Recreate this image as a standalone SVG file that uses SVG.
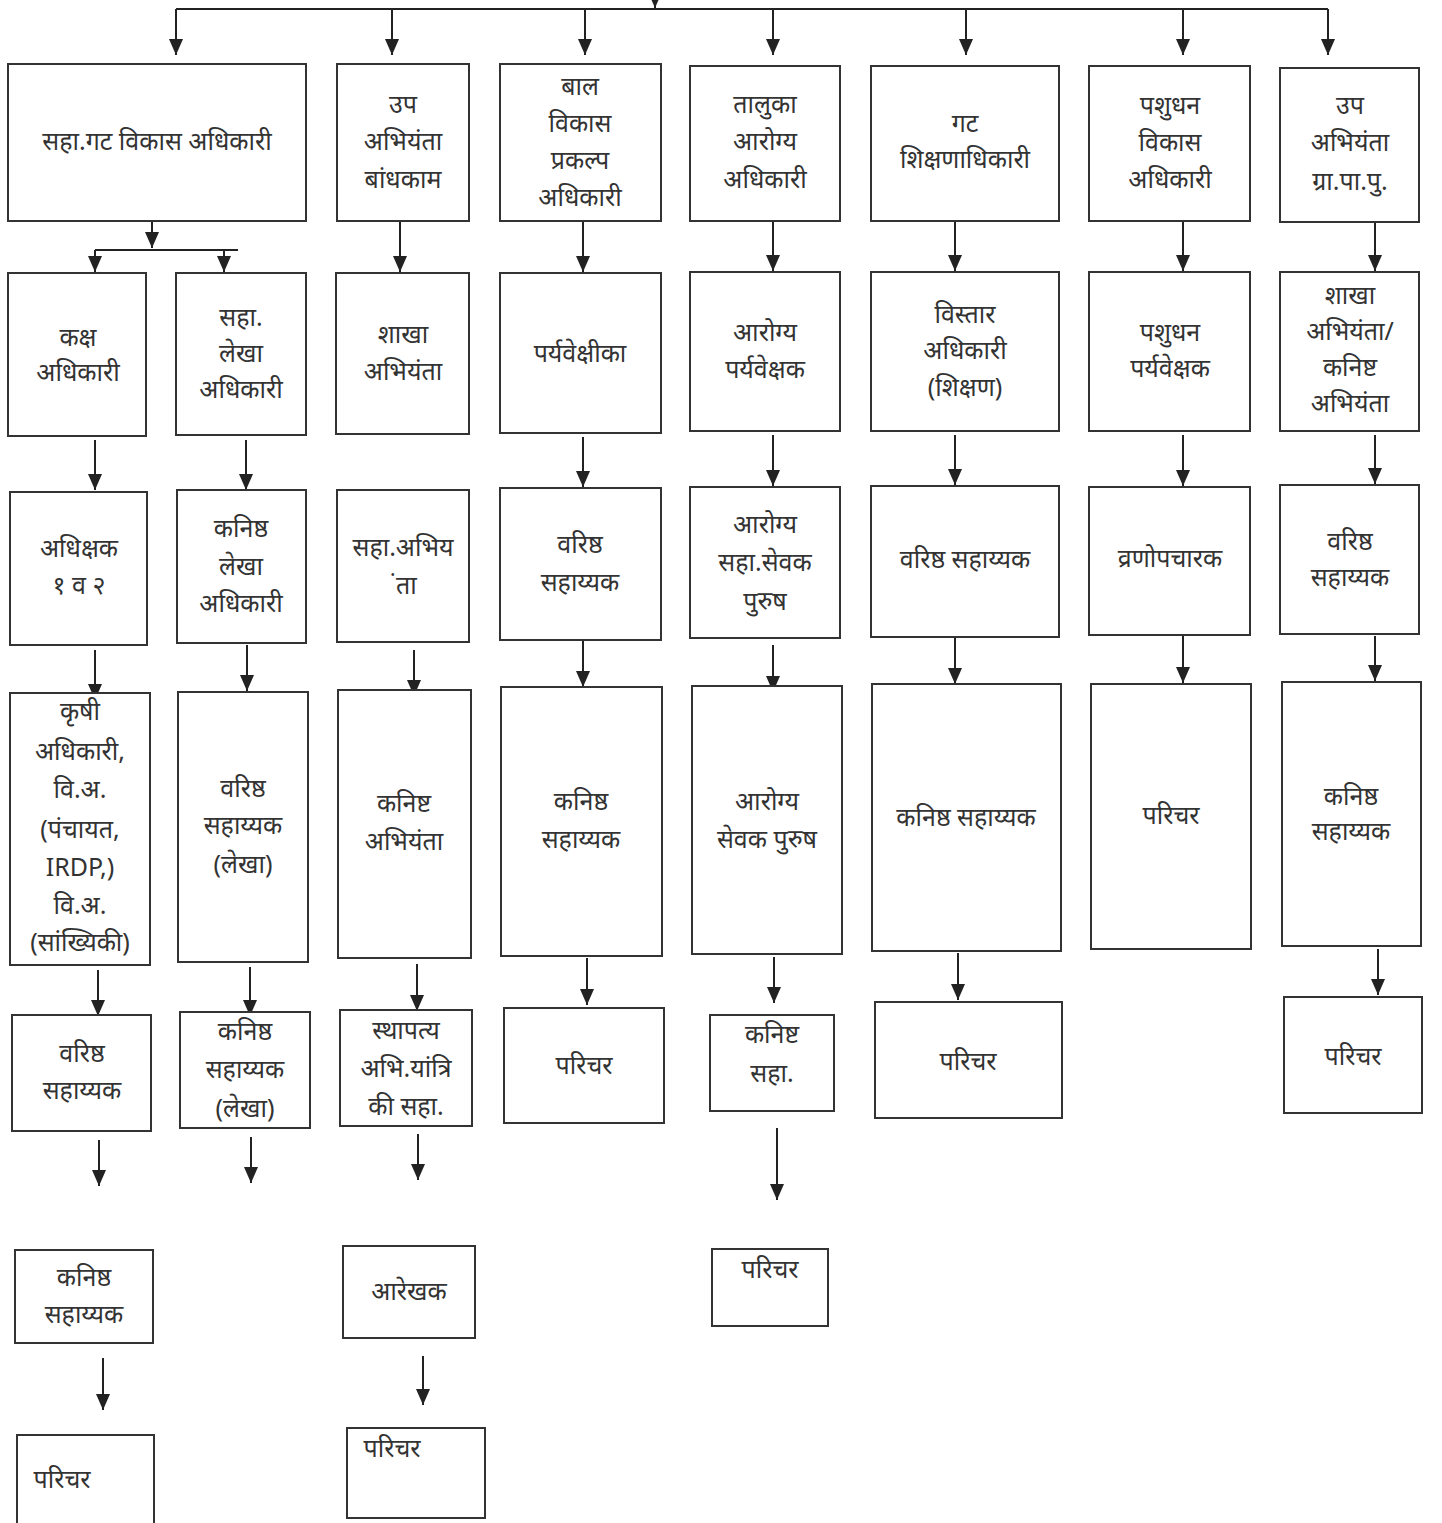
<svg xmlns="http://www.w3.org/2000/svg" width="1442" height="1523" viewBox="0 0 1442 1523">
<defs>
<marker id="ah" viewBox="0 0 16 14" refX="16" refY="7" markerWidth="16" markerHeight="14" markerUnits="userSpaceOnUse" orient="auto">
<path d="M0,0 L16,7 L0,14 Z" fill="#222"/>
</marker>
<style>
.b{fill:#fff;stroke:#333;stroke-width:2}
.t{font-family:"Noto Sans","Liberation Serif",sans-serif;font-size:25px;fill:#333;text-anchor:middle}
.c{fill:none;stroke:#222;stroke-width:2}
.a{fill:none;stroke:#222;stroke-width:2;marker-end:url(#ah)}
</style>
</defs>
<rect width="1442" height="1523" fill="#fff"/>
<g id="connectors">
<path class="a" d="M655,-20 V8"/>
<path class="c" d="M176,9 H1328"/>
<path class="a" d="M176,9 V55"/>
<path class="a" d="M392,9 V55"/>
<path class="a" d="M585,9 V55"/>
<path class="a" d="M773,9 V55"/>
<path class="a" d="M966,9 V55"/>
<path class="a" d="M1183,9 V55"/>
<path class="a" d="M1328,9 V55"/>
<path class="a" d="M152,222 V248"/>
<path class="c" d="M95,250 H238"/>
<path class="a" d="M95,250 V272"/>
<path class="a" d="M224,250 V272"/>
<path class="a" d="M400,222 V272"/>
<path class="a" d="M583,222 V272"/>
<path class="a" d="M773,222 V271"/>
<path class="a" d="M955,222 V271"/>
<path class="a" d="M1183,222 V271"/>
<path class="a" d="M1375,222 V271"/>
<path class="a" d="M95,440 V490"/>
<path class="a" d="M246,440 V490"/>
<path class="a" d="M583,437 V487"/>
<path class="a" d="M773,435 V486"/>
<path class="a" d="M955,435 V485"/>
<path class="a" d="M1183,435 V486"/>
<path class="a" d="M1375,435 V484"/>
<path class="a" d="M95,650 V700"/>
<path class="a" d="M247,645 V691"/>
<path class="a" d="M414,650 V696"/>
<path class="a" d="M583,641 V687"/>
<path class="a" d="M773,645 V692"/>
<path class="a" d="M955,638 V684"/>
<path class="a" d="M1183,636 V683"/>
<path class="a" d="M1375,636 V681"/>
<path class="a" d="M98,970 V1016"/>
<path class="a" d="M250,967 V1016"/>
<path class="a" d="M417,964 V1011"/>
<path class="a" d="M587,958 V1005"/>
<path class="a" d="M774,957 V1003"/>
<path class="a" d="M958,953 V1000"/>
<path class="a" d="M1378,949 V995"/>
<path class="a" d="M99,1140 V1186"/>
<path class="a" d="M251,1137 V1183"/>
<path class="a" d="M418,1134 V1180"/>
<path class="a" d="M777,1128 V1200"/>
<path class="a" d="M103,1358 V1410"/>
<path class="a" d="M423,1356 V1405"/>
</g>
<g id="n1"><rect class="b" x="8" y="64" width="298" height="157"/><text class="t" x="157" y="150">सहा.गट विकास अधिकारी</text></g>
<g id="n2"><rect class="b" x="337" y="64" width="132" height="157"/><text class="t" x="403" y="113">उप</text><text class="t" x="403" y="150">अभियंता</text><text class="t" x="403" y="188">बांधकाम</text></g>
<g id="n3"><rect class="b" x="500" y="64" width="161" height="157"/><text class="t" x="580" y="95">बाल</text><text class="t" x="580" y="132">विकास</text><text class="t" x="580" y="169">प्रकल्प</text><text class="t" x="580" y="206">अधिकारी</text></g>
<g id="n4"><rect class="b" x="690" y="66" width="150" height="155"/><text class="t" x="765" y="113">तालुका</text><text class="t" x="765" y="150">आरोग्य</text><text class="t" x="765" y="188">अधिकारी</text></g>
<g id="n5"><rect class="b" x="871" y="66" width="188" height="155"/><text class="t" x="965" y="132">गट</text><text class="t" x="965" y="168">शिक्षणाधिकारी</text></g>
<g id="n6"><rect class="b" x="1089" y="66" width="161" height="155"/><text class="t" x="1170" y="114">पशुधन</text><text class="t" x="1170" y="151">विकास</text><text class="t" x="1170" y="188">अधिकारी</text></g>
<g id="n7"><rect class="b" x="1280" y="68" width="139" height="154"/><text class="t" x="1350" y="114">उप</text><text class="t" x="1350" y="151">अभियंता</text><text class="t" x="1350" y="190">ग्रा.पा.पु.</text></g>

<g id="n8"><rect class="b" x="8" y="273" width="138" height="163"/><text class="t" x="78" y="346">कक्ष</text><text class="t" x="78" y="381">अधिकारी</text></g>
<g id="n9"><rect class="b" x="176" y="273" width="130" height="162"/><text class="t" x="241" y="326">सहा.</text><text class="t" x="241" y="362">लेखा</text><text class="t" x="241" y="398">अधिकारी</text></g>
<g id="n10"><rect class="b" x="336" y="273" width="133" height="161"/><text class="t" x="403" y="343">शाखा</text><text class="t" x="403" y="380">अभियंता</text></g>
<g id="n11"><rect class="b" x="500" y="273" width="161" height="160"/><text class="t" x="580" y="362">पर्यवेक्षीका</text></g>
<g id="n12"><rect class="b" x="690" y="272" width="150" height="159"/><text class="t" x="765" y="341">आरोग्य</text><text class="t" x="765" y="378">पर्यवेक्षक</text></g>
<g id="n13"><rect class="b" x="871" y="272" width="188" height="159"/><text class="t" x="965" y="323">विस्तार</text><text class="t" x="965" y="359">अधिकारी</text><text class="t" x="965" y="396">(शिक्षण)</text></g>
<g id="n14"><rect class="b" x="1089" y="272" width="161" height="159"/><text class="t" x="1170" y="341">पशुधन</text><text class="t" x="1170" y="377">पर्यवेक्षक</text></g>
<g id="n15"><rect class="b" x="1280" y="272" width="139" height="159"/><text class="t" x="1350" y="304">शाखा</text><text class="t" x="1350" y="340">अभियंता/</text><text class="t" x="1350" y="376">कनिष्ट</text><text class="t" x="1350" y="412">अभियंता</text></g>

<g id="n16"><rect class="b" x="10" y="492" width="137" height="153"/><text class="t" x="79" y="557">अधिक्षक</text><text class="t" x="79" y="594">१ व २</text></g>
<g id="n17"><rect class="b" x="177" y="490" width="129" height="153"/><text class="t" x="241" y="537">कनिष्ठ</text><text class="t" x="241" y="575">लेखा</text><text class="t" x="241" y="612">अधिकारी</text></g>
<g id="n18"><rect class="b" x="337" y="490" width="132" height="152"/><text class="t" x="403" y="556">सहा.अभिय</text><text class="t" x="403" y="594">&#xA0;ंता</text></g>
<g id="n19"><rect class="b" x="500" y="488" width="161" height="152"/><text class="t" x="580" y="553">वरिष्ठ</text><text class="t" x="580" y="591">सहाय्यक</text></g>
<g id="n20"><rect class="b" x="690" y="487" width="150" height="151"/><text class="t" x="765" y="533">आरोग्य</text><text class="t" x="765" y="571">सहा.सेवक</text><text class="t" x="765" y="610">पुरुष</text></g>
<g id="n21"><rect class="b" x="871" y="486" width="188" height="151"/><text class="t" x="965" y="568">वरिष्ठ सहाय्यक</text></g>
<g id="n22"><rect class="b" x="1089" y="487" width="161" height="148"/><text class="t" x="1170" y="567">व्रणोपचारक</text></g>
<g id="n23"><rect class="b" x="1280" y="485" width="139" height="149"/><text class="t" x="1350" y="550">वरिष्ठ</text><text class="t" x="1350" y="586">सहाय्यक</text></g>

<g id="n24"><rect class="b" x="10" y="693" width="140" height="272"/><text class="t" x="80" y="720">कृषी</text><text class="t" x="80" y="760">अधिकारी,</text><text class="t" x="80" y="798">वि.अ.</text><text class="t" x="80" y="838">(पंचायत,</text><text class="t" x="80" y="876">IRDP,)</text><text class="t" x="80" y="914">वि.अ.</text><text class="t" x="80" y="951">(सांख्यिकी)</text></g>
<g id="n25"><rect class="b" x="178" y="692" width="130" height="270"/><text class="t" x="243" y="797">वरिष्ठ</text><text class="t" x="243" y="834">सहाय्यक</text><text class="t" x="243" y="873">(लेखा)</text></g>
<g id="n26"><rect class="b" x="338" y="690" width="133" height="268"/><text class="t" x="404" y="812">कनिष्ट</text><text class="t" x="404" y="850">अभियंता</text></g>
<g id="n27"><rect class="b" x="501" y="687" width="161" height="269"/><text class="t" x="581" y="810">कनिष्ठ</text><text class="t" x="581" y="848">सहाय्यक</text></g>
<g id="n28"><rect class="b" x="692" y="686" width="150" height="268"/><text class="t" x="767" y="810">आरोग्य</text><text class="t" x="767" y="848">सेवक पुरुष</text></g>
<g id="n29"><rect class="b" x="872" y="684" width="189" height="267"/><text class="t" x="966" y="826">कनिष्ठ सहाय्यक</text></g>
<g id="n30"><rect class="b" x="1091" y="684" width="160" height="265"/><text class="t" x="1171" y="824">परिचर</text></g>
<g id="n31"><rect class="b" x="1282" y="682" width="139" height="264"/><text class="t" x="1351" y="805">कनिष्ठ</text><text class="t" x="1351" y="840">सहाय्यक</text></g>

<g id="n32"><rect class="b" x="12" y="1015" width="139" height="116"/><text class="t" x="82" y="1062">वरिष्ठ</text><text class="t" x="82" y="1099">सहाय्यक</text></g>
<g id="n33"><rect class="b" x="180" y="1012" width="130" height="116"/><text class="t" x="245" y="1040">कनिष्ठ</text><text class="t" x="245" y="1078">सहाय्यक</text><text class="t" x="245" y="1117">(लेखा)</text></g>
<g id="n34"><rect class="b" x="340" y="1010" width="132" height="116"/><text class="t" x="406" y="1039">स्थापत्य</text><text class="t" x="406" y="1077">अभि.यांत्रि</text><text class="t" x="406" y="1115">की सहा.</text></g>
<g id="n35"><rect class="b" x="504" y="1008" width="160" height="115"/><text class="t" x="584" y="1074">परिचर</text></g>
<g id="n36"><rect class="b" x="710" y="1015" width="124" height="96"/><text class="t" x="772" y="1043">कनिष्ट</text><text class="t" x="772" y="1082">सहा.</text></g>
<g id="n37"><rect class="b" x="875" y="1002" width="187" height="116"/><text class="t" x="968" y="1070">परिचर</text></g>
<g id="n38"><rect class="b" x="1284" y="997" width="138" height="116"/><text class="t" x="1353" y="1065">परिचर</text></g>

<g id="n39"><rect class="b" x="15" y="1250" width="138" height="93"/><text class="t" x="84" y="1286">कनिष्ठ</text><text class="t" x="84" y="1323">सहाय्यक</text></g>
<g id="n40"><rect class="b" x="343" y="1246" width="132" height="92"/><text class="t" x="409" y="1300">आरेखक</text></g>
<g id="n41"><rect class="b" x="712" y="1249" width="116" height="77"/><text class="t" x="770" y="1278">परिचर</text></g>

<g id="n42"><rect class="b" x="17" y="1435" width="137" height="95"/><text class="t" x="62" y="1488">परिचर</text></g>
<g id="n43"><rect class="b" x="347" y="1428" width="138" height="90"/><text class="t" x="392" y="1457">परिचर</text></g>
</svg>
